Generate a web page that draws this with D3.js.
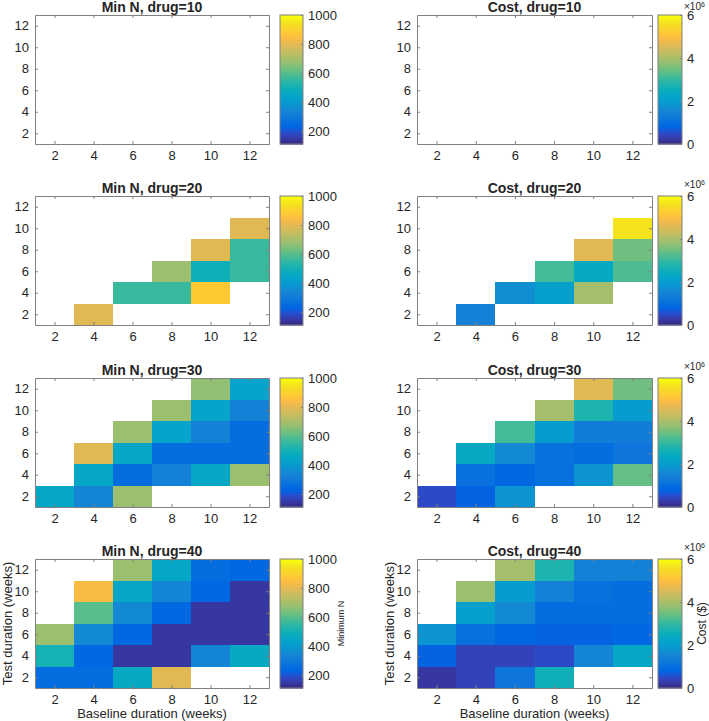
<!DOCTYPE html>
<html>
<head>
<meta charset="utf-8">
<script src="https://cdn.jsdelivr.net/npm/d3@7"></script>
<style>
  html, body { margin: 0; padding: 0; background: #fff; }
  svg { display: block; }
  text { font-family: "Liberation Sans", Arial, Helvetica, sans-serif; fill: #262626; }
</style>
</head>
<body>
<svg id="chart" width="709" height="721"></svg>
<script>
// ---------------- DATA ----------------
const baselineWeeks = [2, 4, 6, 8, 10, 12];      // x categories (cell centres)
const testWeeks = [2, 4, 6, 8, 10, 12];          // y categories (cell centres)
const tickValues = [2, 4, 6, 8, 10, 12];
const drugs = [10, 20, 30, 40];

const minNTicks = [200, 400, 600, 800, 1000];
const minNRange = [110, 1000];
const costTicks = [0, 2e6, 4e6, 6e6];
const costRange = [0, 6e6];

// rows: test duration 2..12 ; columns: baseline duration 2..12 ; null = no design
const minN10 = [
  [null, null, null, null, null, null],
  [null, null, null, null, null, null],
  [null, null, null, null, null, null],
  [null, null, null, null, null, null],
  [null, null, null, null, null, null],
  [null, null, null, null, null, null]
];
const cost10 = [
  [null, null, null, null, null, null],
  [null, null, null, null, null, null],
  [null, null, null, null, null, null],
  [null, null, null, null, null, null],
  [null, null, null, null, null, null],
  [null, null, null, null, null, null]
];
const minN20 = [
  [null, 800, null, null, null, null],
  [null, null, 565, 565, 885, null],
  [null, null, null, 687, 493, 565],
  [null, null, null, null, 800, 565],
  [null, null, null, null, null, 800],
  [null, null, null, null, null, null]
];
const cost20 = [
  [null, 1.45e6, null, null, null, null],
  [null, null, 1.7e6, 2.1e6, 4.0e6, null],
  [null, null, null, 3.1e6, 2.4e6, 3.2e6],
  [null, null, null, null, 4.6e6, 3.5e6],
  [null, null, null, null, null, 5.7e6],
  [null, null, null, null, null, null]
];
const minN30 = [
  [448, 340, 687, null, null, null],
  [null, 448, 256, 323, 448, 687],
  [null, 798, 448, 256, 256, 256],
  [null, null, 687, 430, 323, 260],
  [null, null, null, 687, 440, 320],
  [null, null, null, null, 675, 440]
];
const cost30 = [
  [0.48e6, 0.75e6, 1.8e6, null, null, null],
  [null, 1.05e6, 0.85e6, 1.1e6, 1.8e6, 3.4e6],
  [null, 2.4e6, 1.6e6, 1.1e6, 1.0e6, 1.2e6],
  [null, null, 3.1e6, 2.0e6, 1.35e6, 1.4e6],
  [null, null, null, 4.0e6, 2.8e6, 2.05e6],
  [null, null, null, null, 4.6e6, 3.5e6]
];
const minN40 = [
  [250, 250, 460, 798, null, null],
  [500, 240, 150, 150, 340, 470],
  [687, 350, 240, 150, 150, 150],
  [null, 600, 350, 240, 150, 150],
  [null, 845, 455, 335, 245, 150],
  [null, null, 687, 450, 250, 245]
];
const cost40 = [
  [0.2e6, 0.4e6, 1.2e6, 2.6e6, null, null],
  [0.75e6, 0.4e6, 0.4e6, 0.5e6, 1.5e6, 2.3e6],
  [1.8e6, 1.05e6, 0.85e6, 0.75e6, 0.8e6, 0.85e6],
  [null, 2.1e6, 1.6e6, 0.95e6, 0.95e6, 0.95e6],
  [null, 3.9e6, 2.0e6, 1.45e6, 1.1e6, 1.0e6],
  [null, null, 4.0e6, 2.8e6, 1.45e6, 1.45e6]
];
const minNByDrug = [minN10, minN20, minN30, minN40];
const costByDrug = [cost10, cost20, cost30, cost40];

// MATLAB parula colormap (64 entries)
const parula = [
[0.2081,0.1663,0.5292],[0.2116,0.1898,0.5777],[0.2123,0.2138,0.6270],[0.2081,0.2386,0.6771],
[0.1959,0.2645,0.7279],[0.1707,0.2919,0.7792],[0.1253,0.3242,0.8303],[0.0591,0.3598,0.8683],
[0.0117,0.3875,0.8820],[0.0060,0.4086,0.8828],[0.0165,0.4266,0.8786],[0.0329,0.4430,0.8720],
[0.0498,0.4586,0.8641],[0.0629,0.4737,0.8554],[0.0723,0.4887,0.8467],[0.0779,0.5040,0.8384],
[0.0793,0.5200,0.8312],[0.0749,0.5375,0.8263],[0.0641,0.5570,0.8240],[0.0488,0.5772,0.8228],
[0.0343,0.5966,0.8199],[0.0265,0.6137,0.8135],[0.0239,0.6287,0.8038],[0.0231,0.6418,0.7913],
[0.0228,0.6535,0.7768],[0.0267,0.6642,0.7607],[0.0384,0.6743,0.7436],[0.0590,0.6838,0.7254],
[0.0843,0.6928,0.7062],[0.1133,0.7015,0.6859],[0.1453,0.7098,0.6646],[0.1801,0.7177,0.6424],
[0.2178,0.7250,0.6193],[0.2586,0.7317,0.5954],[0.3022,0.7376,0.5712],[0.3482,0.7424,0.5473],
[0.3953,0.7459,0.5244],[0.4420,0.7481,0.5033],[0.4871,0.7491,0.4840],[0.5300,0.7491,0.4661],
[0.5709,0.7485,0.4494],[0.6099,0.7473,0.4337],[0.6473,0.7456,0.4188],[0.6834,0.7435,0.4044],
[0.7184,0.7411,0.3905],[0.7525,0.7384,0.3768],[0.7858,0.7356,0.3633],[0.8185,0.7327,0.3498],
[0.8507,0.7299,0.3360],[0.8824,0.7274,0.3217],[0.9139,0.7258,0.3063],[0.9450,0.7261,0.2886],
[0.9739,0.7314,0.2666],[0.9938,0.7455,0.2403],[0.9990,0.7653,0.2164],[0.9955,0.7861,0.1967],
[0.9880,0.8066,0.1794],[0.9789,0.8271,0.1633],[0.9697,0.8481,0.1475],[0.9626,0.8705,0.1309],
[0.9589,0.8949,0.1132],[0.9598,0.9218,0.0948],[0.9661,0.9514,0.0755],[0.9763,0.9831,0.0538]
];
const parulaHex = parula.map(c => d3.rgb(c[0]*255, c[1]*255, c[2]*255).formatHex());

// ---------------- LAYOUT ----------------
const svg = d3.select("#chart");
const rowTops = [15, 196, 378, 559];
const plotH = 129;
const cols = [
  { x0: 35, x1: 269, cb0: 280, cbW: 23, name: "Min N", data: minNByDrug, range: minNRange, ticks: minNTicks, fmt: d => String(d) },
  { x0: 417, x1: 652, cb0: 658, cbW: 24, name: "Cost", data: costByDrug, range: costRange, ticks: costTicks, fmt: d => String(d / 1e6) }
];
const axisColor = "#808080";
const textColor = "#262626";

cols.forEach((col, ci) => {
  const color = d3.scaleQuantize().domain(col.range).range(parulaHex);
  drugs.forEach((drug, ri) => {
    const top = rowTops[ri];
    const x = d3.scaleLinear().domain([1, 13]).range([col.x0, col.x1]);
    const y = d3.scaleLinear().domain([1, 13]).range([top + plotH, top]);
    const g = svg.append("g");

    // cells
    const cells = [];
    col.data[ri].forEach((row, ti) => row.forEach((v, bi) => {
      if (v !== null) cells.push({ b: baselineWeeks[bi], t: testWeeks[ti], v });
    }));
    g.selectAll("rect.cell").data(cells).join("rect")
      .attr("class", "cell")
      .attr("x", d => x(d.b - 1))
      .attr("y", d => y(d.t + 1))
      .attr("width", d => x(d.b + 1) - x(d.b - 1))
      .attr("height", d => y(d.t - 1) - y(d.t + 1))
      .attr("fill", d => color(d.v))
      .attr("shape-rendering", "crispEdges");

    // axes (MATLAB style box, inward ticks)
    const tickLen = 3;
    const axB = d3.axisBottom(x).tickValues(tickValues).tickSizeInner(-tickLen).tickSizeOuter(0).tickPadding(7);
    const axT = d3.axisTop(x).tickValues(tickValues).tickSizeInner(-tickLen).tickSizeOuter(0).tickFormat("");
    const axL = d3.axisLeft(y).tickValues(tickValues).tickSizeInner(-tickLen).tickSizeOuter(0).tickPadding(6);
    const axR = d3.axisRight(y).tickValues(tickValues).tickSizeInner(-tickLen).tickSizeOuter(0).tickFormat("");
    const gB = g.append("g").attr("transform", `translate(0,${top + plotH})`).call(axB);
    const gT = g.append("g").attr("transform", `translate(0,${top})`).call(axT);
    const gL = g.append("g").attr("transform", `translate(${col.x0},0)`).call(axL);
    const gR = g.append("g").attr("transform", `translate(${col.x1},0)`).call(axR);
    [gB, gT, gL, gR].forEach(a => {
      a.select(".domain").attr("stroke", axisColor);
      a.selectAll(".tick line").attr("stroke", axisColor);
      a.selectAll(".tick text").attr("fill", textColor)
        .style("font-family", '"Liberation Sans", Arial, sans-serif').style("font-size", "13px");
    });

    // title
    g.append("text")
      .attr("x", (col.x0 + col.x1) / 2).attr("y", top - 3)
      .attr("text-anchor", "middle")
      .style("font-size", "14px").style("font-weight", "bold")
      .text(`${col.name}, drug=${drug}`);

    // colorbar
    const cbScale = d3.scaleLinear().domain(col.range).range([top + plotH, top]);
    const n = parulaHex.length;
    const step = (col.range[1] - col.range[0]) / n;
    g.selectAll("rect.cb").data(parulaHex).join("rect")
      .attr("class", "cb")
      .attr("x", col.cb0)
      .attr("width", col.cbW)
      .attr("y", (c, i) => cbScale(col.range[0] + (i + 1) * step))
      .attr("height", (c, i) => cbScale(col.range[0] + i * step) - cbScale(col.range[0] + (i + 1) * step) + 0.6)
      .attr("fill", c => c);
    g.append("rect").attr("x", col.cb0).attr("y", top).attr("width", col.cbW).attr("height", plotH)
      .attr("fill", "none").attr("stroke", axisColor);
    const cbAx = d3.axisRight(cbScale).tickValues(col.ticks).tickFormat(col.fmt).tickSizeInner(-2).tickSizeOuter(0).tickPadding(5);
    const gcb = g.append("g").attr("transform", `translate(${col.cb0 + col.cbW},0)`).call(cbAx);
    gcb.select(".domain").remove();
    gcb.selectAll(".tick line").attr("stroke", axisColor);
    gcb.selectAll(".tick text").attr("fill", textColor)
      .style("font-family", '"Liberation Sans", Arial, sans-serif').style("font-size", "13px");

    if (ci === 1) {
      const t = g.append("text").attr("x", 684).attr("y", Math.max(top - 8, 10)).style("font-size", "10px");
      t.append("tspan").text("\u00d710");
      t.append("tspan").attr("dy", -3).style("font-size", "7px").text("6");
    }

    // axis labels on bottom row
    if (ri === drugs.length - 1) {
      g.append("text")
        .attr("x", (col.x0 + col.x1) / 2).attr("y", top + plotH + 30)
        .attr("text-anchor", "middle").style("font-size", "13px")
        .text("Baseline duration (weeks)");
      g.append("text")
        .attr("transform", `translate(${col.x0 - 23},${top + plotH / 2}) rotate(-90)`)
        .attr("text-anchor", "middle").style("font-size", "13px")
        .text("Test duration (weeks)");
      if (ci === 0) {
        g.append("text")
          .attr("transform", `translate(344,${top + plotH / 2}) rotate(-90)`)
          .attr("text-anchor", "middle").style("font-size", "9px")
          .text("Minimum N");
      } else {
        g.append("text")
          .attr("transform", `translate(706,${top + plotH / 2}) rotate(-90)`)
          .attr("text-anchor", "middle").style("font-size", "12px")
          .text("Cost ($)");
      }
    }
  });
});
</script>
</body>
</html>
